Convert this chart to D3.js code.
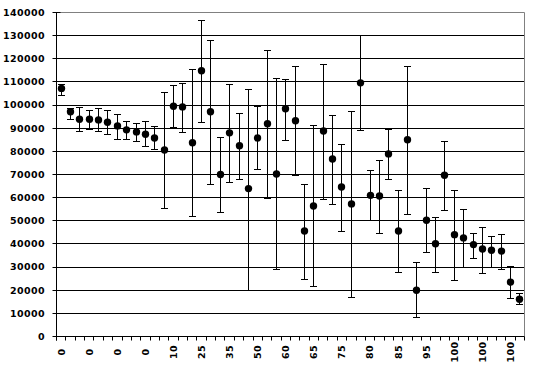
<!DOCTYPE html>
<html>
<head>
<meta charset="utf-8">
<script src="https://d3js.org/d3.v7.min.js"></script>
<style>
  body { margin: 0; background: #fff; }
  text { font-family: "DejaVu Sans", sans-serif; font-weight: bold; font-size: 9.5px; fill: #000; }
</style>
</head>
<body>
<div id="chart"></div>
<script>
// every 3rd category gets a label
var tickLabels = ["0","0","0","0","10","25","35","50","60","65","75","80","85","95","100","100","100"];
var means = [107200,97100,93900,93900,93600,92600,91000,89300,88400,87400,
             85800,80600,99500,99200,83700,114800,97100,70000,88000,82400,
             63900,85800,91900,70200,98400,93200,45600,56400,88800,76700,
             64600,57300,109600,61000,60700,78900,45600,85000,20000,50200,
             40100,69700,44000,42600,39700,37800,37300,36900,23500,16100];
var upper = [108800,98600,98970,97700,98500,97700,95800,92900,91900,92900,
             90700,105500,108500,109400,115400,136500,128000,86100,108900,96400,
             106800,99500,123600,111500,111100,116700,65500,91000,117600,95500,
             82800,97200,130000,71700,76000,89600,62900,116700,31900,63900,
             51300,84100,63000,54700,44400,47300,43400,44000,30400,18500];
var lower = [104200,93900,88700,89600,88700,87300,85300,85300,84400,82200,
             80900,55300,90100,88200,51900,92500,65800,53700,66500,67800,
             19900,72100,59600,29000,84700,69400,24700,21500,59200,57100,
             45300,16900,89000,50300,44600,67800,27600,52700,8200,36200,
             27600,54400,24100,29700,33600,27100,30000,28900,16400,13700];

var W = 537, H = 372;
var pLeft = 56.5, pRight = 524.5, pTop = 12.5, pBottom = 336.5;

var svg = d3.select("#chart").append("svg").attr("width", W).attr("height", H);

var x = d3.scaleBand().domain(d3.range(means.length)).range([pLeft, pRight]);
var y = d3.scaleLinear().domain([0, 140000]).range([pBottom, pTop]);
var yTicks = d3.range(0, 140001, 10000);
var py = function (d) { return Math.round(y(d) - 0.5) + 0.5; };

// gridlines
svg.selectAll("line.grid").data(yTicks.filter(function (d) { return d > 0 && d < 140000; }))
  .enter().append("line")
  .attr("x1", pLeft).attr("x2", pRight)
  .attr("y1", py).attr("y2", py)
  .attr("stroke", "#000").attr("stroke-width", 1);

// plot border top / right
svg.append("path")
  .attr("d", "M" + pLeft + "," + pTop + "H" + pRight + "V" + pBottom)
  .attr("fill", "none").attr("stroke", "#808080");

// y axis
svg.append("line").attr("x1", pLeft).attr("x2", pLeft).attr("y1", pTop).attr("y2", pBottom + 4).attr("stroke", "#000");
svg.selectAll("line.ytick").data(yTicks).enter().append("line")
  .attr("x1", pLeft - 4).attr("x2", pLeft + 4)
  .attr("y1", py).attr("y2", py)
  .attr("stroke", "#000");
svg.selectAll("text.ylab").data(yTicks).enter().append("text")
  .attr("x", 45).attr("y", function (d) { return y(d); })
  .attr("dy", "0.36em").attr("text-anchor", "end")
  .style("letter-spacing", "0.4px")
  .text(function (d) { return d; });

// x axis
svg.append("line").attr("x1", pLeft).attr("x2", pRight).attr("y1", pBottom).attr("y2", pBottom).attr("stroke", "#000");
svg.selectAll("line.xtick").data(d3.range(means.length + 1)).enter().append("line")
  .attr("x1", function (i) { return Math.round(pLeft + i * x.step() - 0.5) + 0.5; })
  .attr("x2", function (i) { return Math.round(pLeft + i * x.step() - 0.5) + 0.5; })
  .attr("y1", pBottom).attr("y2", pBottom + 4)
  .attr("stroke", "#000");
svg.selectAll("text.xlab").data(tickLabels).enter().append("text")
  .attr("transform", function (d, i) {
    var cx = x(i * 3) + x.bandwidth() / 2;
    return "translate(" + cx + ",352) rotate(-90)";
  })
  .attr("dy", "0.36em").attr("text-anchor", "middle")
  .style("letter-spacing", "0.4px")
  .text(function (d) { return d; });

// error bars
var cxOf = function (i) { return Math.round(x(i) + x.bandwidth() / 2 - 0.5) + 0.5; };
var eb = svg.append("g").attr("stroke", "#000").attr("stroke-width", 1).attr("fill", "none");
means.forEach(function (m, i) {
  var cx = cxOf(i);
  var yh = py(upper[i]), yl = py(lower[i]);
  eb.append("line").attr("x1", cx).attr("x2", cx).attr("y1", yh).attr("y2", yl);
  eb.append("line").attr("x1", cx - 3.5).attr("x2", cx + 3.5).attr("y1", yh).attr("y2", yh);
  eb.append("line").attr("x1", cx - 3.5).attr("x2", cx + 3.5).attr("y1", yl).attr("y2", yl);
});

// markers
svg.selectAll("circle.pt").data(means).enter().append("circle")
  .attr("cx", function (d, i) { return cxOf(i); })
  .attr("cy", function (d) { return y(d); })
  .attr("r", 3.7)
  .attr("fill", "#000");
</script>
</body>
</html>
